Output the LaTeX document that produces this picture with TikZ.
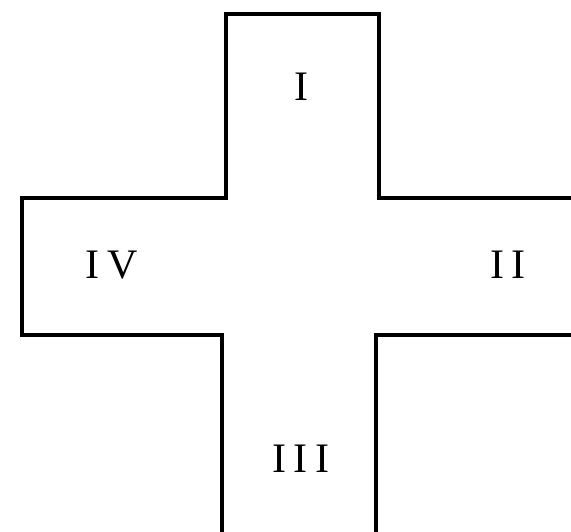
\documentclass[tikz,border=0pt]{standalone}
\usepackage{fontspec}
\setmainfont{Liberation Serif}
\begin{document}
\begin{tikzpicture}[
    x=1pt, y=-1pt,
    crossLine/.style={line width=4pt, draw=black},
    crossLabel/.style={inner sep=0pt, font=\fontsize{42}{42}\selectfont\addfontfeature{LetterSpace=19}}
]
\useasboundingbox (0,0) rectangle (571,532);

% outline of the cross, open to the right and at the bottom
\draw[crossLine] (571,198) -- (379,198) -- (379,14) -- (226,14) -- (226,198)
    -- (22,198) -- (22,334.5) -- (222,334.5) -- (222,532);
\draw[crossLine] (571,334.5) -- (376,334.5) -- (376,532);

% arm labels
\node[crossLabel] (armI) at (301,87) {I};
\node[crossLabel] (armII) at (508,265) {II};
\node[crossLabel] (armIII) at (301,459) {III};
\node[crossLabel] (armIV) at (112,265) {IV};
\end{tikzpicture}
\end{document}
